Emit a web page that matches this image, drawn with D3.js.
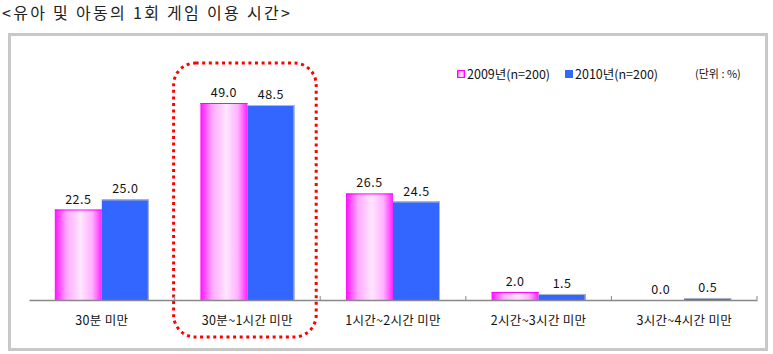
<!DOCTYPE html>
<html>
<head>
<meta charset="utf-8">
<script src="https://cdn.jsdelivr.net/npm/d3@7"></script>
<style>
  body { margin: 0; background: #fff; }
  text { font-family: "Noto Sans CJK KR", "DejaVu Sans", sans-serif; }
</style>
</head>
<body>
<div id="chart"></div>
<script>
const width = 773,
  height = 354;

const categories = ['30분 미만', '30분~1시간 미만', '1시간~2시간 미만', '2시간~3시간 미만', '3시간~4시간 미만'];
const seriesNames = ['2009년(n=200)', '2010년(n=200)'];
const values2009 = [22.5, 49.0, 26.5, 2.0, 0.0];
const values2010 = [25.0, 48.5, 24.5, 1.5, 0.5];

const svg = d3.select('#chart').append('svg')
  .attr('width', width)
  .attr('height', height);

const defs = svg.append('defs');
const grad = defs.append('linearGradient')
  .attr('id', 'pinkGrad')
  .attr('x1', '0%').attr('x2', '100%').attr('y1', '0%').attr('y2', '0%');
grad.append('stop').attr('offset', '0%').attr('stop-color', '#ff10ff');
grad.append('stop').attr('offset', '25%').attr('stop-color', '#ffa8ff');
grad.append('stop').attr('offset', '55%').attr('stop-color', '#ffe6ff');
grad.append('stop').attr('offset', '80%').attr('stop-color', '#ffb0ff');
grad.append('stop').attr('offset', '100%').attr('stop-color', '#ff20ff');

// title
svg.append('text')
  .attr('x', 2)
  .attr('y', 19)
  .style('font-size', '16px')
  .style('letter-spacing', '2.3px')
  .style('font-family', '"Noto Sans CJK KR", serif')
  .attr('fill', '#222')
  .text('<유아 및 아동의 1회 게임 이용 시간>');

// outer frame
svg.append('rect')
  .attr('x', 9.5).attr('y', 34.5)
  .attr('width', 757).attr('height', 315)
  .attr('fill', 'none')
  .attr('stroke', '#c8c8c8')
  .attr('stroke-width', 3);

const baseY = 300;

const x0 = d3.scaleBand()
  .domain(categories)
  .range([29, 757]);

const x1 = d3.scaleBand()
  .domain(['a', 'b'])
  .range([0, 94]);

const y = d3.scaleLinear()
  .domain([0, 49])
  .range([baseY, 103]);

// highlight box
const hl = categories[1];
svg.append('rect')
  .attr('x', x0(hl) - 1)
  .attr('y', 63)
  .attr('width', x0.bandwidth() - 3)
  .attr('height', 274)
  .attr('rx', 22).attr('ry', 22)
  .attr('fill', 'none')
  .attr('stroke', '#ff0000')
  .attr('stroke-width', 3)
  .attr('stroke-dasharray', '3,3.6');

const groups = svg.append('g')
  .selectAll('g')
  .data(categories.map((c, i) => ({ c, v: [values2009[i], values2010[i]] })))
  .enter()
  .append('g')
  .attr('transform', d => `translate(${x0(d.c) + (x0.bandwidth() - 94) / 2},0)`);

// 2009 bars
groups.filter(d => d.v[0] > 0).append('rect')
  .attr('x', x1('a'))
  .attr('y', d => y(d.v[0]))
  .attr('width', x1.bandwidth())
  .attr('height', d => baseY - y(d.v[0]))
  .attr('fill', 'url(#pinkGrad)');
groups.filter(d => d.v[0] > 0).append('line')
  .attr('x1', x1('a')).attr('x2', x1('a') + x1.bandwidth())
  .attr('y1', d => y(d.v[0]) + 0.5).attr('y2', d => y(d.v[0]) + 0.5)
  .attr('stroke', '#ff00ff');

// 2010 bars
groups.append('rect')
  .attr('x', x1('b'))
  .attr('y', d => y(d.v[1]))
  .attr('width', x1.bandwidth())
  .attr('height', d => baseY - y(d.v[1]))
  .attr('fill', '#3366ff');
groups.append('path')
  .attr('d', d => `M${x1('b')},${y(d.v[1]) + 0.5}H${x1('b') + x1.bandwidth() - 0.5}V${baseY}`)
  .attr('fill', 'none')
  .attr('stroke', '#b0b8d0');

// value labels
groups.selectAll('text.val')
  .data(d => d.v.map((v, i) => ({ v, k: i === 0 ? 'a' : 'b' })))
  .enter()
  .append('text')
  .attr('class', 'val')
  .attr('x', d => x1(d.k) + x1.bandwidth() / 2)
  .attr('y', d => y(d.v) - 6)
  .attr('text-anchor', 'middle')
  .style('font-size', '12.5px')
  .style('letter-spacing', '0.5px')
  .attr('fill', '#111')
  .text(d => d.v.toFixed(1));

// axis
const axis = svg.append('g')
  .attr('transform', `translate(0,${baseY})`)
  .call(d3.axisBottom(x0).tickSize(0).tickPadding(16));
axis.select('.domain').attr('stroke', '#888').attr('stroke-width', 1.5);
axis.selectAll('.tick text')
  .style('font-size', '12.5px')
  .style('letter-spacing', '0.3px')
  .style('font-family', '"Noto Sans CJK KR", sans-serif')
  .attr('fill', '#111');
axis.selectAll('.bound')
  .data(categories.slice(1).map(c => x0(c)).concat([757]))
  .enter()
  .append('line')
  .attr('class', 'bound')
  .attr('x1', d => d).attr('x2', d => d)
  .attr('y1', -4).attr('y2', 0)
  .attr('stroke', '#888');

// legend
const legend = svg.append('g').attr('transform', 'translate(457,70)');
const legendX = [0, 108];
seriesNames.forEach((s, i) => {
  const g = legend.append('g').attr('transform', `translate(${legendX[i]},0)`);
  g.append('rect')
    .attr('x', 0.5).attr('y', 0.5)
    .attr('width', 7).attr('height', 7)
    .attr('fill', i === 0 ? 'url(#pinkGrad)' : '#3366ff')
    .attr('stroke', i === 0 ? '#ff00ff' : '#3366ff');
  g.append('text')
    .attr('x', 10).attr('y', 8.5)
    .style('font-size', '12.5px')
    .attr('fill', '#111')
    .text(s);
});
svg.append('text')
  .attr('x', 695).attr('y', 78)
  .style('font-size', '11px')
  .attr('fill', '#111')
  .text('(단위 : %)');
</script>
</body>
</html>
